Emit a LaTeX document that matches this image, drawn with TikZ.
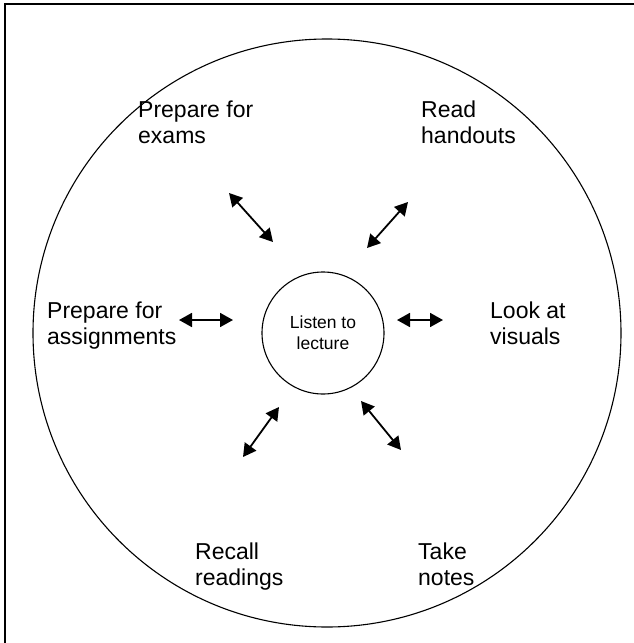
\documentclass[tikz,border=0pt]{standalone}
\usepackage{fontspec}
\setmainfont{Liberation Sans}
\usetikzlibrary{arrows.meta}
\begin{document}
\begin{tikzpicture}[x=1pt,y=-1pt,
  lbl/.style={anchor=north west, inner sep=0pt, align=left, font=\fontsize{23}{25.5}\selectfont},
  dbl/.style={{Triangle[length=13pt,width=14pt]}-{Triangle[length=13pt,width=14pt]}, line width=1.8pt},
  ring/.style={circle, draw, line width=1.1pt, inner sep=0pt},
]
\useasboundingbox (0,0) rectangle (634,643);
\draw[line width=1.3pt] (5,643) -- (5,4) -- (634,4);
\node[ring, minimum size=588pt] (outer) at (327,333) {};
\node[ring, minimum size=122pt, align=center, font=\fontsize{17.5}{21}\selectfont] (center) at (323,333) {Listen to\\lecture};
\node[lbl] (exams) at (138,101) {Prepare for\\exams};
\node[lbl] (handouts) at (421,101) {Read\\handouts};
\node[lbl] (assign) at (47,302) {Prepare for\\assignments};
\node[lbl] (visuals) at (490,302) {Look at\\visuals};
\node[lbl] (readings) at (195,543) {Recall\\readings};
\node[lbl] (notes) at (418,543) {Take\\notes};
\coordinate (a1s) at (229,193); \coordinate (a1e) at (273,242);
\coordinate (a2s) at (408,202); \coordinate (a2e) at (367,248);
\coordinate (a3s) at (179,320); \coordinate (a3e) at (233,320);
\coordinate (a4s) at (397,320); \coordinate (a4e) at (443,320);
\coordinate (a5s) at (279,407); \coordinate (a5e) at (243,457);
\coordinate (a6s) at (361,401); \coordinate (a6e) at (401,450);
\draw[dbl] (a1s) -- (a1e);
\draw[dbl] (a2s) -- (a2e);
\draw[dbl] (a3s) -- (a3e);
\draw[dbl] (a4s) -- (a4e);
\draw[dbl] (a5s) -- (a5e);
\draw[dbl] (a6s) -- (a6e);
\end{tikzpicture}
\end{document}
